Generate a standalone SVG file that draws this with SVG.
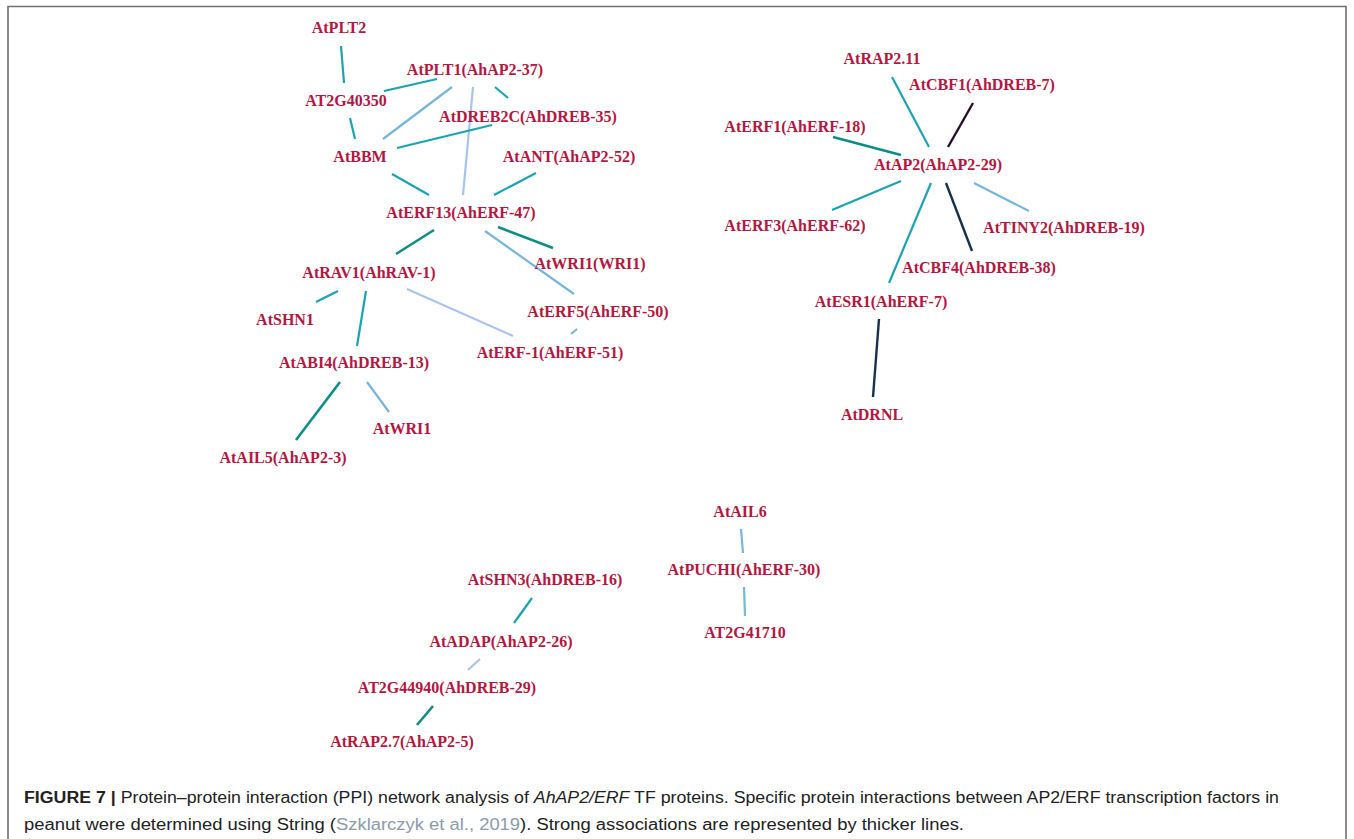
<svg xmlns="http://www.w3.org/2000/svg" width="1354" height="839" viewBox="0 0 1354 839">
<style>
.n{font-family:"Liberation Serif","Times New Roman",serif;font-weight:bold;font-size:16px;fill:#B3173F;text-anchor:middle}
.e{stroke-width:2.2;stroke-linecap:butt;fill:none}
.teal{stroke:#1BA3B2}
.dteal{stroke:#0E8C88;stroke-width:2.6}
.lblue{stroke:#77B6DC}
.pblue{stroke:#A9C3F0}
.purple{stroke:#2A0F2C;stroke-width:2.4}
.navy{stroke:#173050;stroke-width:2.4}
.cap{font-family:"Liberation Sans",Arial,sans-serif;font-size:16px;fill:#222}
</style>
<rect width="1354" height="839" fill="#fff"/>
<path d="M8,839 V6.5 H1346 V839" fill="none" stroke="#707070" stroke-width="1.6"/>
<g id="connectors">
<line class="e teal" x1="341" y1="46" x2="344" y2="83"/>
<line class="e teal" x1="384" y1="91" x2="437" y2="79"/>
<line class="e lblue" x1="452" y1="87" x2="383" y2="139"/>
<line class="e pblue" x1="473" y1="87" x2="463" y2="195"/>
<line class="e teal" x1="495" y1="87" x2="508" y2="98"/>
<line class="e teal" x1="350" y1="118" x2="355" y2="139"/>
<line class="e teal" x1="492" y1="125" x2="397" y2="148"/>
<line class="e teal" x1="392" y1="174" x2="429" y2="195"/>
<line class="e teal" x1="536" y1="173" x2="494" y2="195"/>
<line class="e dteal" x1="434" y1="230" x2="396" y2="254"/>
<line class="e dteal" x1="498" y1="227" x2="553" y2="248"/>
<line class="e lblue" x1="485" y1="231" x2="574" y2="294"/>
<line class="e teal" x1="338" y1="291" x2="316" y2="302"/>
<line class="e teal" x1="366" y1="291" x2="357" y2="346"/>
<line class="e pblue" x1="407" y1="289" x2="513" y2="336"/>
<line class="e lblue" x1="577" y1="329" x2="571" y2="334"/>
<line class="e dteal" x1="340" y1="382" x2="296" y2="440"/>
<line class="e lblue" x1="367" y1="382" x2="389" y2="412"/>
<line class="e teal" x1="892" y1="77" x2="929" y2="147"/>
<line class="e purple" x1="973" y1="103" x2="948" y2="147"/>
<line class="e dteal" x1="833" y1="137" x2="901" y2="155"/>
<line class="e teal" x1="901" y1="181" x2="832" y2="210"/>
<line class="e teal" x1="931" y1="183" x2="889" y2="283"/>
<line class="e navy" x1="946" y1="183" x2="972" y2="251"/>
<line class="e lblue" x1="974" y1="183" x2="1029" y2="211"/>
<line class="e navy" x1="879" y1="319" x2="873" y2="397"/>
<line class="e lblue" x1="741" y1="529" x2="743" y2="553"/>
<line class="e lblue" x1="744" y1="587" x2="745" y2="616"/>
<line class="e teal" x1="532" y1="598" x2="514" y2="623"/>
<line class="e pblue" x1="480" y1="659" x2="468" y2="670"/>
<line class="e dteal" x1="433" y1="706" x2="417" y2="725"/>
</g>
<g id="n-AtPLT2"><text class="n" x="339" y="33">AtPLT2</text></g>
<g id="n-AT2G40350"><text class="n" x="346" y="106">AT2G40350</text></g>
<g id="n-AtPLT1"><text class="n" x="475" y="75">AtPLT1(AhAP2-37)</text></g>
<g id="n-AtDREB2C"><text class="n" x="528" y="122">AtDREB2C(AhDREB-35)</text></g>
<g id="n-AtBBM"><text class="n" x="360" y="162">AtBBM</text></g>
<g id="n-AtANT"><text class="n" x="569" y="162">AtANT(AhAP2-52)</text></g>
<g id="n-AtERF13"><text class="n" x="461" y="218">AtERF13(AhERF-47)</text></g>
<g id="n-AtRAV1"><text class="n" x="369" y="278">AtRAV1(AhRAV-1)</text></g>
<g id="n-AtWRI1-WRI1"><text class="n" x="590" y="269">AtWRI1(WRI1)</text></g>
<g id="n-AtERF5"><text class="n" x="598" y="317">AtERF5(AhERF-50)</text></g>
<g id="n-AtSHN1"><text class="n" x="285" y="325">AtSHN1</text></g>
<g id="n-AtERF-1"><text class="n" x="550" y="358">AtERF-1(AhERF-51)</text></g>
<g id="n-AtABI4"><text class="n" x="354" y="368">AtABI4(AhDREB-13)</text></g>
<g id="n-AtWRI1"><text class="n" x="402" y="434">AtWRI1</text></g>
<g id="n-AtAIL5"><text class="n" x="283" y="463">AtAIL5(AhAP2-3)</text></g>
<g id="n-AtRAP2.11"><text class="n" x="882" y="64">AtRAP2.11</text></g>
<g id="n-AtCBF1"><text class="n" x="982" y="90">AtCBF1(AhDREB-7)</text></g>
<g id="n-AtERF1"><text class="n" x="795" y="132">AtERF1(AhERF-18)</text></g>
<g id="n-AtAP2"><text class="n" x="938" y="170">AtAP2(AhAP2-29)</text></g>
<g id="n-AtERF3"><text class="n" x="795" y="231">AtERF3(AhERF-62)</text></g>
<g id="n-AtTINY2"><text class="n" x="1064" y="233">AtTINY2(AhDREB-19)</text></g>
<g id="n-AtCBF4"><text class="n" x="979" y="273">AtCBF4(AhDREB-38)</text></g>
<g id="n-AtESR1"><text class="n" x="881" y="307">AtESR1(AhERF-7)</text></g>
<g id="n-AtDRNL"><text class="n" x="872" y="420">AtDRNL</text></g>
<g id="n-AtAIL6"><text class="n" x="740" y="517">AtAIL6</text></g>
<g id="n-AtPUCHI"><text class="n" x="744" y="575">AtPUCHI(AhERF-30)</text></g>
<g id="n-AT2G41710"><text class="n" x="745" y="638">AT2G41710</text></g>
<g id="n-AtSHN3"><text class="n" x="545" y="585">AtSHN3(AhDREB-16)</text></g>
<g id="n-AtADAP"><text class="n" x="501" y="647">AtADAP(AhAP2-26)</text></g>
<g id="n-AT2G44940"><text class="n" x="447" y="693">AT2G44940(AhDREB-29)</text></g>
<g id="n-AtRAP2.7"><text class="n" x="402" y="747">AtRAP2.7(AhAP2-5)</text></g>
<g id="caption">
<text class="cap" x="24" y="803" textLength="1255" lengthAdjust="spacingAndGlyphs"><tspan font-weight="bold">FIGURE 7 | </tspan>Protein–protein interaction (PPI) network analysis of <tspan font-style="italic">AhAP2/ERF</tspan> TF proteins. Specific protein interactions between AP2/ERF transcription factors in</text>
<text class="cap" x="24" y="830" textLength="940" lengthAdjust="spacingAndGlyphs">peanut were determined using String (<tspan fill="#8C9BA8">Szklarczyk et al., 2019</tspan>). Strong associations are represented by thicker lines.</text>
</g>
</svg>
